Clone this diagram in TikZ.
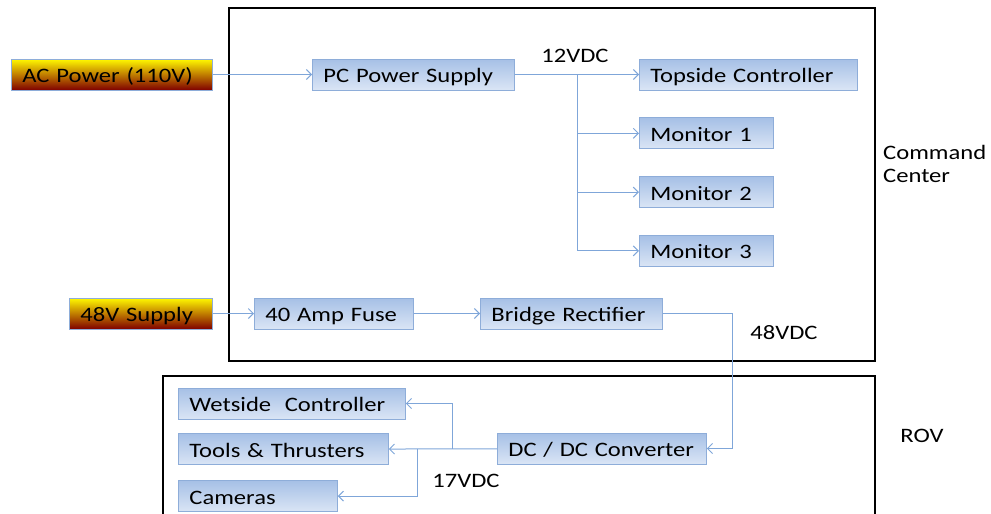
\documentclass[tikz,border=0pt]{standalone}
\usepackage{fontspec}
\setmainfont{Carlito}[FakeStretch=1.2]
\usepackage{xcolor}
\usepackage{tikz}
\usetikzlibrary{arrows.meta, positioning}

\definecolor{boxtop}{HTML}{A6C0E6}
\definecolor{boxbot}{HTML}{DAE5F5}
\definecolor{boxline}{HTML}{8EADD9}
\definecolor{wire}{HTML}{7FA6D9}
\definecolor{hotred}{HTML}{800000}

\begin{document}
\begin{tikzpicture}[
        x=1pt, y=-1pt,
        node distance=27pt and 100pt,
        block/.style={rectangle, draw=boxline, line width=0.8pt, top color=boxtop, bottom color=boxbot, minimum height=31pt, text height=17pt, text depth=1pt, inner xsep=11pt, inner ysep=0pt, align=left, anchor=west, font=\fontsize{20.5}{23}\selectfont},
        supply/.style={block, draw=boxline, top color=yellow!95!orange, middle color=red!80!orange, bottom color=hotred},
        label/.style={font=\fontsize{20.5}{23}\selectfont, align=left, inner sep=0pt},
        frame/.style={draw=black, line width=2.5pt},
        arr/.style={-{Straight Barb[length=5pt, width=10pt]}, draw=wire, line width=1pt},
    ]
        \clip (0,0) rectangle (991,514);

        % Frames
        \draw[frame] (229,8) rectangle (875,361);
        \draw[frame] (163,520) -- (163,376) -- (875,376) -- (875,520);

        % Row 1
        \node[supply, text width=179pt] (ac) at (11,74.5) {AC Power (110V)};
        \node[block, text width=180pt] (psu) at (312,74.5) {PC Power Supply};
        \node[block, text width=196pt] (topside) at (639,74.5) {Topside Controller};

        % Monitors
        \node[block, text width=112pt, below right=27pt and 0pt of topside.south west] (mon1) {Monitor 1};
        \node[block, text width=112pt, below right=27pt and 0pt of mon1.south west] (mon2) {Monitor 2};
        \node[block, text width=112pt, below right=27pt and 0pt of mon2.south west] (mon3) {Monitor 3};

        % Row 2
        \node[supply, text width=121pt] (v48) at (69,313.5) {48V Supply};
        \node[block, text width=137pt] (fuse) at (254,313.5) {40 Amp Fuse};
        \node[block, text width=160pt] (bridge) at (480,313.5) {Bridge Rectifier};

        % ROV
        \node[block, text width=205pt] (wet) at (178,403.5) {Wetside~~Controller};
        \node[block, text width=188pt, below right=14pt and 0pt of wet.south west] (tools) {Tools \& Thrusters};
        \node[block, text width=137pt, below right=15pt and 0pt of tools.south west] (cams) {Cameras};
        \node[block, text width=187pt] (dcdc) at (497,448.5) {DC / DC Converter};

        % Labels
        \node[label] (v12) at (575,56) {12VDC};
        \node[label, anchor=west] (cmd) at (883,164) {Command\\Center};
        \node[label] (v48dc) at (784,333) {48VDC};
        \node[label] (rov) at (922,436) {ROV};
        \node[label] (v17) at (466,481) {17VDC};

        % Branch points
        \coordinate (b12) at (577,74.5);
        \coordinate (b17w) at (452,448.5);
        \coordinate (b17c) at (417,448.5);

        % Arrows
        \draw[arr] (ac) -- (psu);
        \draw[arr] (psu) -- (topside);
        \draw[arr] (b12) |- (mon1.west);
        \draw[arr] (b12) |- (mon2.west);
        \draw[arr] (b12) |- (mon3.west);
        \draw[arr] (v48) -- (fuse);
        \draw[arr] (fuse) -- (bridge);
        \draw[arr] (bridge.east) -- ++(70,0) |- (dcdc.east);
        \draw[arr] (dcdc) -- (tools);
        \draw[arr] (b17w) |- (wet.east);
        \draw[arr] (b17c) |- (cams.east);
    \end{tikzpicture}
\end{document}
